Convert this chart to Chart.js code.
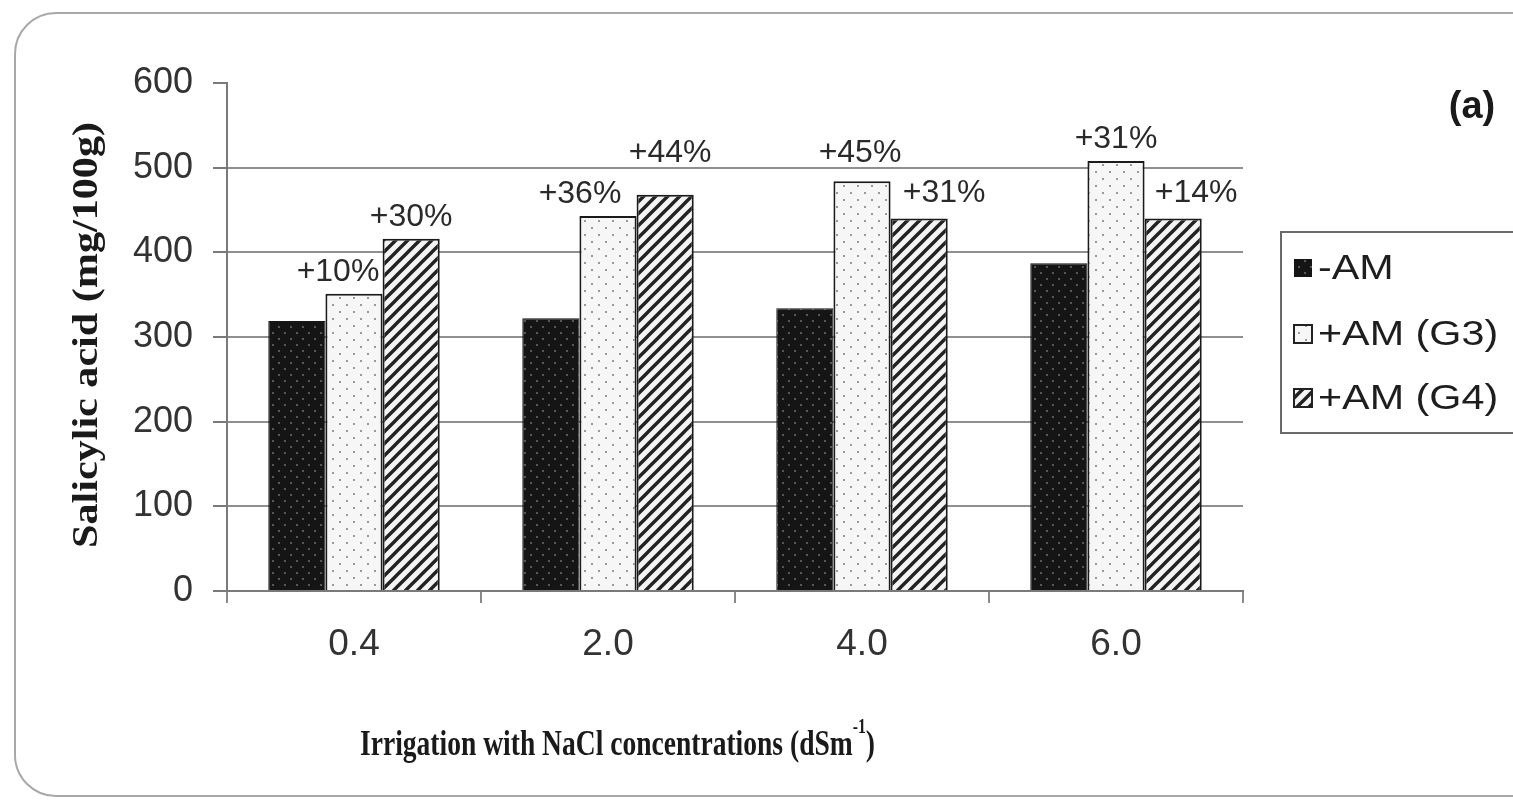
<!DOCTYPE html>
<html>
<head>
<meta charset="utf-8">
<script src="https://cdn.jsdelivr.net/npm/chart.js@4.4.1/dist/chart.umd.min.js"></script>
<style>
  html, body { margin: 0; padding: 0; background: #fff; overflow: hidden; }
  #wrap { position: relative; width: 1513px; height: 803px; }
  #frame { position: absolute; left: 14px; top: 12px; width: 1560px; height: 781px; border: 2px solid #a8a8a8; border-radius: 42px; }
  canvas { position: absolute; left: 0; top: 0; }
</style>
</head>
<body>
<div id="wrap"><div id="frame"></div><canvas id="chart" width="1513" height="803"></canvas></div>
<script>
// --- data ---
const categories = ['0.4', '2.0', '4.0', '6.0'];
const seriesNames = ['-AM', '+AM (G3)', '+AM (G4)'];
const noAM = [319, 322, 334, 387];
const amG3 = [351, 443, 484, 508];
const amG4 = [416, 468, 440, 440];
const labelsG3 = ['+10%', '+36%', '+45%', '+31%'];
const labelsG4 = ['+30%', '+44%', '+31%', '+14%'];
const yTicks = [0, 100, 200, 300, 400, 500, 600];

// label nudges (dx, dy) so they sit like in the figure
const nudgeG3 = [[-16, 0], [-28, 0], [-2, -6], [0, 0]];
const nudgeG4 = [[0, 0], [5, -20], [25, -3], [23, -3]];

// --- fill patterns ---
function makePattern(kind) {
  const c = document.createElement('canvas');
  const g = c.getContext('2d');
  if (kind === 'dark') {
    c.width = 12; c.height = 12;
    g.fillStyle = '#151515'; g.fillRect(0, 0, 12, 12);
    g.fillStyle = '#56565e';
    g.fillRect(2, 2, 2, 2); g.fillRect(8, 8, 2, 2);
  } else if (kind === 'dots') {
    c.width = 14; c.height = 14;
    g.fillStyle = '#f6f6f6'; g.fillRect(0, 0, 14, 14);
    g.fillStyle = '#9a9a9a';
    g.fillRect(3, 3, 2, 2); g.fillRect(10, 10, 2, 2);
  } else {
    const s = 12;
    c.width = s; c.height = s;
    g.fillStyle = '#f4f4f4'; g.fillRect(0, 0, s, s);
    g.strokeStyle = '#222'; g.lineWidth = 3.4;
    g.beginPath();
    g.moveTo(0, s); g.lineTo(s, 0);
    g.moveTo(-2, 2); g.lineTo(2, -2);
    g.moveTo(s - 2, s + 2); g.lineTo(s + 2, s - 2);
    g.stroke();
  }
  return g.createPattern(c, 'repeat');
}
const fills = [makePattern('dark'), makePattern('dots'), makePattern('hatch')];

// --- extra drawing: percent labels, titles, legend, panel tag ---
const decor = {
  id: 'decor',
  afterDatasetsDraw(chart) {
    const ctx = chart.ctx;
    ctx.save();
    ctx.font = '32px "Liberation Sans", Arial, sans-serif';
    ctx.fillStyle = '#2a2a2a';
    ctx.textAlign = 'center';
    ctx.textBaseline = 'middle';
    [[1, labelsG3, nudgeG3], [2, labelsG4, nudgeG4]].forEach(([di, texts, nudge]) => {
      chart.getDatasetMeta(di).data.forEach((bar, i) => {
        ctx.fillText(texts[i], bar.x + nudge[i][0], bar.y - 22 + nudge[i][1]);
      });
    });
    ctx.restore();
  },
  afterDraw(chart) {
    const ctx = chart.ctx;
    ctx.save();

    // y title (rotated, condensed serif bold)
    ctx.font = 'bold 35px "Liberation Serif", "Times New Roman", serif';
    ctx.fillStyle = '#1a1a1a';
    ctx.textAlign = 'center';
    ctx.textBaseline = 'middle';
    const yt = 'Salicylic acid (mg/100g)';
    let w = ctx.measureText(yt).width;
    ctx.save();
    ctx.translate(88, 335);
    ctx.rotate(-Math.PI / 2);
    ctx.scale(426 / w, 1);
    ctx.fillText(yt, 0, 0);
    ctx.restore();

    // x title with superscript
    const main = 'Irrigation with NaCl concentrations (dSm';
    ctx.font = 'bold 35px "Liberation Serif", "Times New Roman", serif';
    const wMain = ctx.measureText(main).width;
    ctx.font = 'bold 20px "Liberation Serif", "Times New Roman", serif';
    const wSup = ctx.measureText('-1').width;
    ctx.font = 'bold 35px "Liberation Serif", "Times New Roman", serif';
    const wEnd = ctx.measureText(')').width;
    const total = wMain + wSup + wEnd;
    ctx.save();
    ctx.translate(360, 755);
    ctx.scale(515 / total, 1);
    ctx.textAlign = 'left';
    ctx.textBaseline = 'alphabetic';
    ctx.fillText(main, 0, 0);
    ctx.font = 'bold 20px "Liberation Serif", "Times New Roman", serif';
    ctx.fillText('-1', wMain, -22);
    ctx.font = 'bold 35px "Liberation Serif", "Times New Roman", serif';
    ctx.fillText(')', wMain + wSup, 0);
    ctx.restore();

    // panel tag
    ctx.font = 'bold 38px "Liberation Sans", Arial, sans-serif';
    ctx.fillStyle = '#1a1a1a';
    ctx.textAlign = 'center';
    ctx.textBaseline = 'middle';
    ctx.fillText('(a)', 1472, 108);

    // legend
    ctx.strokeStyle = '#6a6a6a';
    ctx.lineWidth = 2;
    ctx.strokeRect(1281, 232, 260, 201);
    const rows = [268, 334, 398];
    ctx.font = '35px "Liberation Sans", Arial, sans-serif';
    ctx.textAlign = 'left';
    ctx.textBaseline = 'middle';
    seriesNames.forEach((name, i) => {
      ctx.fillStyle = fills[i];
      ctx.fillRect(1294, rows[i] - 9, 18, 18);
      if (i > 0) {
        ctx.strokeStyle = '#222';
        ctx.lineWidth = 2;
        ctx.strokeRect(1294, rows[i] - 9, 18, 18);
      }
      ctx.fillStyle = '#1e1e1e';
      ctx.save();
      ctx.translate(1318, rows[i] + 1);
      ctx.scale(1.18, 1);
      ctx.fillText(name, 0, 0);
      ctx.restore();
    });
    ctx.restore();
  }
};

const ctx = document.getElementById('chart').getContext('2d');
new Chart(ctx, {
  type: 'bar',
  data: {
    labels: categories,
    datasets: [
      { label: seriesNames[0], data: noAM, backgroundColor: fills[0], borderColor: '#151515', borderWidth: 1 },
      { label: seriesNames[1], data: amG3, backgroundColor: fills[1], borderColor: '#1a1a1a', borderWidth: 2 },
      { label: seriesNames[2], data: amG4, backgroundColor: fills[2], borderColor: '#1a1a1a', borderWidth: 2 }
    ]
  },
  options: {
    responsive: false,
    animation: false,
    layout: { padding: { left: 0, top: 83, right: 270, bottom: 0 } },
    datasets: { bar: { categoryPercentage: 0.675, barPercentage: 1.0 } },
    plugins: { legend: { display: false }, tooltip: { enabled: false } },
    scales: {
      x: {
        afterFit: s => { s.height = 212; },
        grid: { drawOnChartArea: false, tickLength: 12, color: '#8a8a8a', lineWidth: 2 },
        border: { color: '#7a7a7a', width: 2 },
        ticks: { color: '#333', padding: 20, font: { family: '"Liberation Sans", Arial, sans-serif', size: 37 } }
      },
      y: {
        min: 0,
        max: 600,
        afterFit: s => { s.width = 227; },
        afterBuildTicks: s => { s.ticks = yTicks.map(v => ({ value: v })); },
        grid: {
          color: c => (c.tick && (c.tick.value === 600 || c.tick.value === 0)) ? 'rgba(0,0,0,0)' : '#8f8f8f',
          tickColor: '#7a7a7a',
          tickLength: 14,
          lineWidth: 2
        },
        border: { color: '#7a7a7a', width: 2 },
        ticks: { color: '#333', padding: 20, font: { family: '"Liberation Sans", Arial, sans-serif', size: 36 } }
      }
    }
  },
  plugins: [decor]
});
</script>
</body>
</html>
